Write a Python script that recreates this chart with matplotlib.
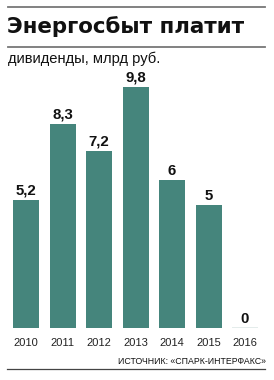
import matplotlib
matplotlib.use("Agg")
import matplotlib.pyplot as plt
from matplotlib.lines import Line2D

years = ["2010", "2011", "2012", "2013", "2014", "2015", "2016"]
values = [5.2, 8.3, 7.2, 9.8, 6, 5, 0]
value_labels = ["5,2", "8,3", "7,2", "9,8", "6", "5", "0"]
title = "Энергосбыт платит"
subtitle = "дивиденды, млрд руб."
source = "ИСТОЧНИК: «СПАРК-ИНТЕРФАКС»"

W, H = 274, 380
fig = plt.figure(figsize=(W / 100, H / 100), dpi=100)
fig.patch.set_facecolor("white")

def fx(px):
    return px / W

def fy(py):
    return 1 - py / H

# axes
left_px, right_px = 8, 265
top_px, bottom_px = 80, 328.3
ax = fig.add_axes([fx(left_px), fy(bottom_px), (right_px - left_px) / W, (bottom_px - top_px) / H])
ax.set_xlim(-0.502, 6.549)
ax.set_ylim(0, (bottom_px - top_px) / 24.65)
ax.axis("off")

bar_color = "#45857c"
xs = list(range(len(years)))
width = 0.713
bars = ax.bar(xs, values, width=width, color=bar_color, linewidth=0)
for x, v in zip(xs, values):
    if v == 0:
        ax.hlines(0.02, x - width / 2, x + width / 2, color="#dfe9e7", linewidth=1.2)

for x, v, lab in zip(xs, values, value_labels):
    ax.annotate(lab, (x, v), xytext=(0, 3.8), textcoords="offset points",
                ha="center", va="baseline", fontsize=10.8, fontweight="bold",
                family="Liberation Sans", color="#111111")

for x, y in zip(xs, years):
    ax.annotate(y, (x, 0), xytext=(0, -18.2 * 0.72), textcoords="offset points",
                ha="center", va="baseline", fontsize=8,
                family="Liberation Sans", color="#222222")

# header lines
fig.add_artist(Line2D([fx(8), fx(265)], [fy(6.7), fy(6.7)], color="#777777", linewidth=1.3))
fig.add_artist(Line2D([fx(8), fx(265)], [fy(46.5), fy(46.5)], color="#777777", linewidth=1.3))
fig.add_artist(Line2D([fx(7), fx(265)], [fy(369), fy(369)], color="#444444", linewidth=0.9))

fig.text(fx(7), fy(32.7), title, ha="left", va="baseline", fontsize=15.4,
         fontweight="heavy", family="DejaVu Sans", color="#111111")
fig.text(fx(8), fy(63), subtitle, ha="left", va="baseline", fontsize=10.6,
         family="Liberation Sans", color="#111111")
fig.text(fx(266), fy(363.5), source, ha="right", va="baseline", fontsize=6.3,
         family="Liberation Sans", color="#111111")

fig.savefig("out.png", dpi=100, facecolor="white")
